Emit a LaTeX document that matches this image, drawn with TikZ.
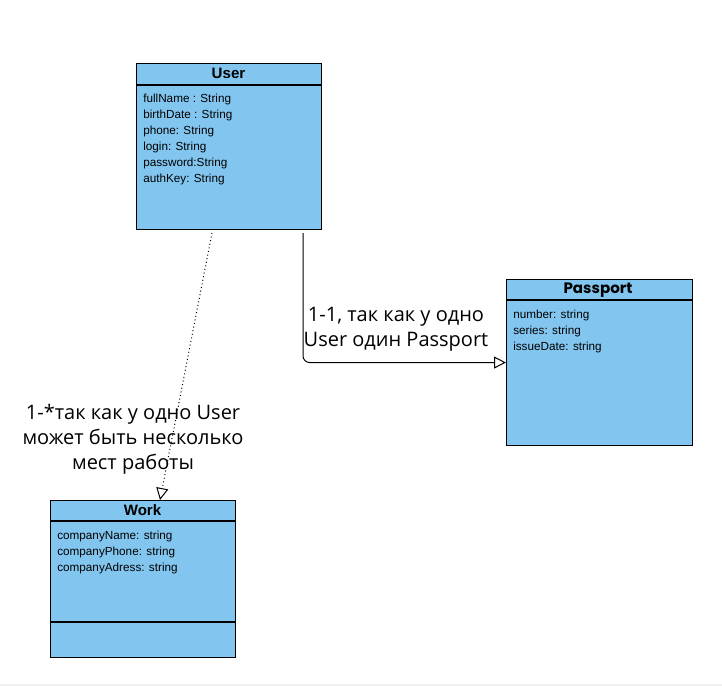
\documentclass[tikz,border=0pt]{standalone}
\usepackage{fontspec}
\setmainfont{Liberation Sans}
\newfontfamily\labelfont{Open Sans}
\newfontfamily\titlefont{Poppins}
\usetikzlibrary{arrows.meta}
\definecolor{classfill}{RGB}{130,198,240}
\tikzset{
  classbox/.style={draw=black, fill=classfill, line width=0.8pt, anchor=north west, inner sep=0pt},
  classtitle/.style={font=\bfseries\fontsize{11.3}{13}\selectfont, inner sep=0pt},
  attr/.style={font=\fontsize{8.8}{10}\selectfont, anchor=west, inner sep=0pt},
  notelabel/.style={font=\labelfont\fontsize{15}{18.75}\selectfont, align=center, inner sep=0pt},
  assoc/.style={line width=0.75pt, -{Triangle[open,length=9pt,width=9pt]}},
}
\begin{document}
\begin{tikzpicture}[x=0.75pt,y=-0.75pt]
\useasboundingbox (0,0) rectangle (722,686);
\fill[black!6] (0,684) rectangle (722,686);

% User class
\node[classbox, minimum width=185*0.75pt, minimum height=166*0.75pt] (user) at (136,63) {};
\draw[line width=0.8pt] (136,85) -- (321,85);
\node[classtitle] (usertitle) at (228.5,73) {User};
\node[attr] (u1) at (143,99.5) {fullName : String};
\node[attr] (u2) at (143,115.5) {birthDate : String};
\node[attr] (u3) at (143,131.5) {phone: String};
\node[attr] (u4) at (143,147.5) {login: String};
\node[attr] (u5) at (143,163.5) {password:String};
\node[attr] (u6) at (143,179.5) {authKey: String};

% Passport class
\node[classbox, minimum width=186*0.75pt, minimum height=166*0.75pt] (passport) at (506,279) {};
\draw[line width=0.8pt] (506,300) -- (692,300);
\node[classtitle, font=\titlefont\bfseries\fontsize{11.3}{13}\selectfont] (passporttitle) at (598,290) {Passport};
\node[attr] (p1) at (513,315.5) {number: string};
\node[attr] (p2) at (513,331.5) {series: string};
\node[attr] (p3) at (513,347.5) {issueDate: string};

% Work class
\node[classbox, minimum width=185*0.75pt, minimum height=157*0.75pt] (work) at (50,500) {};
\draw[line width=0.8pt] (50,521) -- (235,521);
\draw[line width=0.8pt] (50,622) -- (235,622);
\node[classtitle] (worktitle) at (142.5,510) {Work};
\node[attr] (w1) at (57,536.5) {companyName: string};
\node[attr] (w2) at (57,552.5) {companyPhone: string};
\node[attr] (w3) at (57,568.5) {companyAdress: string};

% User -> Passport (1-1)
\coordinate (upass) at (303,233);
\draw[assoc, rounded corners=5pt] (upass) |- (passport.west);
\node[notelabel] (lbl11) at (396,329) {1-1, так как у одно\\User один Passport};

% User -> Work (1-*)
\coordinate (uwork) at (212,233);
\coordinate (wtop) at (160,500);
\draw[assoc, dotted] (uwork) -- (wtop);
\node[notelabel] (lbl1n) at (133,439.5) {1-*так как у одно User\\может быть несколько\\мест работы};
\end{tikzpicture}
\end{document}
